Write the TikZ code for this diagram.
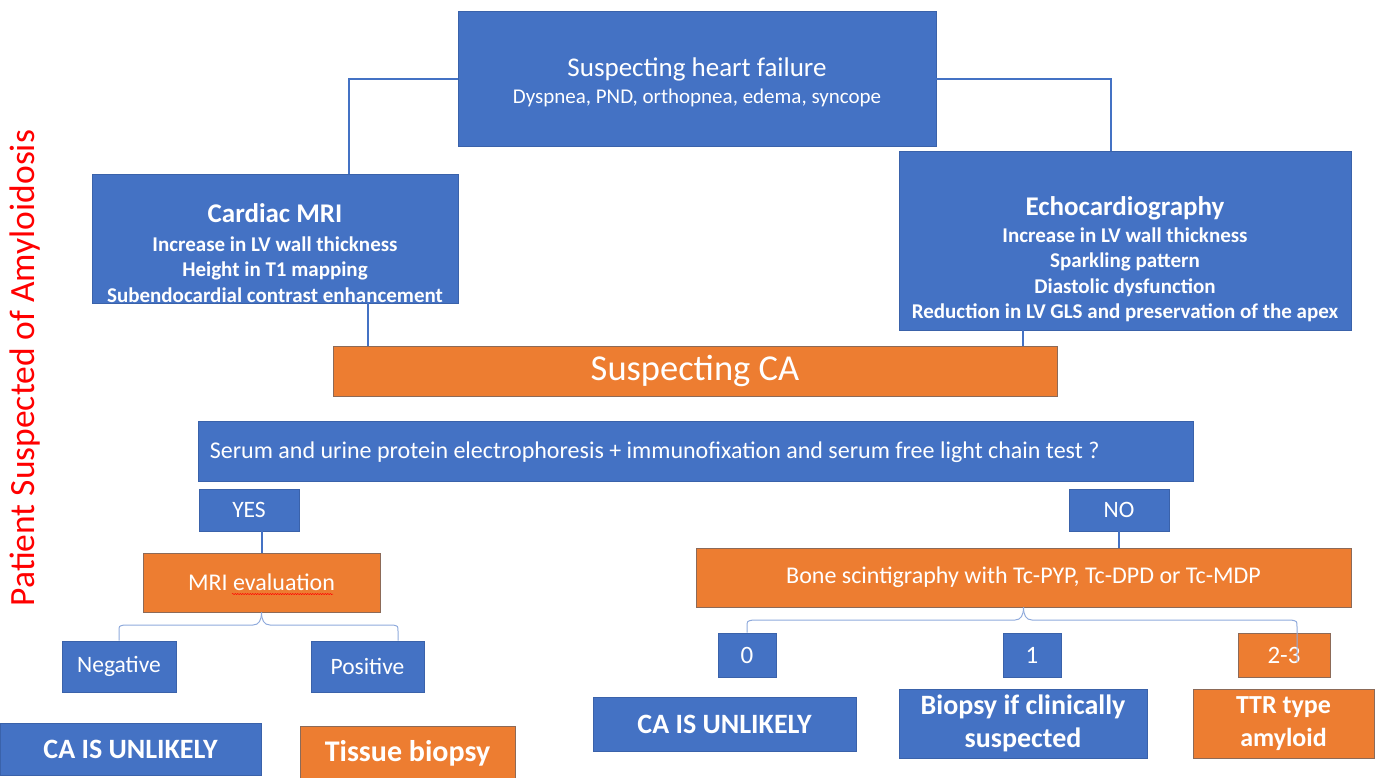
\documentclass[tikz,border=0pt]{standalone}
\usepackage{fontspec}
\setmainfont{Carlito}
\usetikzlibrary{decorations.pathmorphing}
\definecolor{boxblue}{HTML}{4472C4}
\definecolor{boxorange}{HTML}{ED7D31}
\definecolor{blueedge}{HTML}{3A62AA}
\definecolor{orangeedge}{HTML}{8C6A58}
\definecolor{bracecol}{HTML}{8FAADC}
\begin{document}
\begin{tikzpicture}[x=1pt, y=-1pt,
    bluebox/.style={fill=boxblue, draw=blueedge, line width=0.6pt, text=white, inner sep=0pt, align=center},
    orangebox/.style={fill=boxorange, draw=orangeedge, line width=0.6pt, text=white, inner sep=0pt, align=center},
    boxtext/.style={text=white, inner sep=0pt, align=center},
    link/.style={draw=boxblue, line width=2pt},
    brace/.style={draw=bracecol, line width=1pt}]
    \useasboundingbox (0,0) rectangle (1384,777);
        %draw side title
    \node[rotate=90, text=red, font=\fontsize{35.5}{40}\selectfont] (side) at (25,368) {Patient Suspected of Amyloidosis};
        %%%%%%%%%%%%%%%%%%%%%%%%%%%%%%%%%%%
        %%%First row
        %%%%%%%%%%%%%%%%%%%%%%%%%%%%%%%%%%%
    \node[bluebox, minimum width=478, minimum height=135] (hf) at (697,78.5) {};
    \node[boxtext] (hftext) at ([yshift=-4pt]hf.center) {\fontsize{27}{29}\selectfont Suspecting heart failure\\[7pt]\fontsize{21}{29}\selectfont Dyspnea, PND, orthopnea, edema, syncope};
    \node[bluebox, minimum width=366, minimum height=129] (cmri) at (275,238.5) {};
    \node[boxtext, font=\bfseries\fontsize{21}{25.5}\selectfont] (cmritext) at ([yshift=-14.5pt]cmri.center) {{\fontsize{27}{30}\selectfont Cardiac MRI}\\[3pt]Increase in LV wall thickness\\Height in T1 mapping\\Subendocardial contrast enhancement};
    \node[bluebox, minimum width=452, minimum height=179] (echo) at (1125,240.5) {};
    \node[boxtext, font=\bfseries\fontsize{21}{25.3}\selectfont] (echotext) at ([yshift=-18.5pt]echo.center) {{\fontsize{27}{30}\selectfont Echocardiography}\\[2pt]Increase in LV wall thickness\\Sparkling pattern\\Diastolic dysfunction\\Reduction in LV GLS and preservation of the apex};
        %draw lines from heart failure
    \draw[link] (hf.west) -| ([xshift=74pt]cmri.north);
    \draw[link] (hf.east) -| ([xshift=-14pt]echo.north);
        %%%%%%%%%%%%%%%%%%%%%%%%%%%%%%%%%%%
        %%%Suspecting CA
        %%%%%%%%%%%%%%%%%%%%%%%%%%%%%%%%%%%
    \node[orangebox, minimum width=724, minimum height=50, font=\fontsize{36.5}{40}\selectfont] (ca) at (695,371) {Suspecting CA};
    \draw[link] ([xshift=93pt]cmri.south) -- ([xshift=93pt]cmri.south |- ca.north);
    \draw[link] ([xshift=-102pt]echo.south) -- ([xshift=-102pt]echo.south |- ca.north);
    \node[bluebox, minimum width=995, minimum height=60] (serum) at (695.5,451) {};
    \node[boxtext, anchor=west, font=\fontsize{24}{28}\selectfont] (serumtext) at ([xshift=12pt,yshift=-1.5pt]serum.west) {Serum and urine protein electrophoresis + immunofixation and serum free light chain test ?};
    \node[bluebox, minimum width=100, minimum height=42, font=\fontsize{23.5}{26}\selectfont] (yes) at (249,510) {YES};
    \node[bluebox, minimum width=100, minimum height=42, font=\fontsize{23.5}{26}\selectfont] (no) at (1119,510) {NO};
        %%%%%%%%%%%%%%%%%%%%%%%%%%%%%%%%%%%
        %%%YES side
        %%%%%%%%%%%%%%%%%%%%%%%%%%%%%%%%%%%
    \node[orangebox, minimum width=237, minimum height=59, font=\fontsize{24}{28}\selectfont] (mrieval) at (261.5,582.5) {MRI evaluation};
    \draw[red, line width=0.5pt, decorate, decoration={snake, amplitude=0.6pt, segment length=2.5pt}] (232,594) -- (333,594);
    \draw[link] (mrieval.north) -- (mrieval.north |- yes.south);
    \node[bluebox, minimum width=114, minimum height=51, font=\fontsize{23.5}{27}\selectfont] (neg) at (119,666.5) {Negative};
    \node[bluebox, minimum width=113, minimum height=51, font=\fontsize{23.5}{27}\selectfont] (pos) at (367.5,666.5) {Positive};
        %draw brace
    \draw[brace] (neg.north) -- (119,631) .. controls (119,626) .. (124,625) -- (253,625) .. controls (259,625) and (261.5,620) .. (mrieval.south);
    \draw[brace] (mrieval.south) .. controls (261.5,620) and (264,625) .. (270,625) -- (393,625) .. controls (398,626) .. (398,631) -- ([xshift=30.5pt]pos.north);
    \node[bluebox, minimum width=261, minimum height=52, font=\bfseries\fontsize{28}{32}\selectfont] (unlikelyl) at (130.5,749) {CA IS UNLIKELY};
    \node[orangebox, minimum width=215, minimum height=54, font=\bfseries\fontsize{30}{34}\selectfont] (tissue) at (407.5,753) {Tissue biopsy};
        %%%%%%%%%%%%%%%%%%%%%%%%%%%%%%%%%%%
        %%%NO side
        %%%%%%%%%%%%%%%%%%%%%%%%%%%%%%%%%%%
    \node[orangebox, minimum width=655, minimum height=59, font=\fontsize{24}{28}\selectfont] (bone) at (1023.5,577.5) {Bone scintigraphy with Tc-PYP, Tc-DPD or Tc-MDP};
    \draw[link] (no.south) -- (no.south |- bone.north);
    \node[bluebox, minimum width=58, minimum height=44, font=\fontsize{25}{28}\selectfont] (grade0) at (747,655) {0};
    \node[bluebox, minimum width=58, minimum height=44, font=\fontsize{25}{28}\selectfont] (grade1) at (1032,655) {1};
    \node[orangebox, minimum width=92, minimum height=44, font=\fontsize{25}{28}\selectfont] (grade23) at (1284,655) {2-3};
    \node[bluebox, minimum width=263, minimum height=54, font=\bfseries\fontsize{28}{32}\selectfont] (unlikelym) at (724.5,724) {CA IS UNLIKELY};
    \node[bluebox, minimum width=248, minimum height=69, font=\bfseries\fontsize{28}{33}\selectfont] (biopsy) at (1023,723.5) {Biopsy if clinically\\suspected};
    \node[orangebox, minimum width=181, minimum height=69, font=\bfseries\fontsize{26}{33}\selectfont] (ttr) at (1283.5,723.5) {TTR type\\amyloid};
        %draw brace
    \draw[brace] (grade0.north) -- (747,627) .. controls (747,621) .. (753,620) -- (1015,620) .. controls (1021,620) and (1023.5,615) .. (bone.south);
    \draw[brace] (bone.south) .. controls (1023.5,615) and (1026,620) .. (1032,620) -- (1291,620) .. controls (1297,621) .. (1297,627) -- ([xshift=13pt,yshift=-7pt]grade23.center);
\end{tikzpicture}
\end{document}
